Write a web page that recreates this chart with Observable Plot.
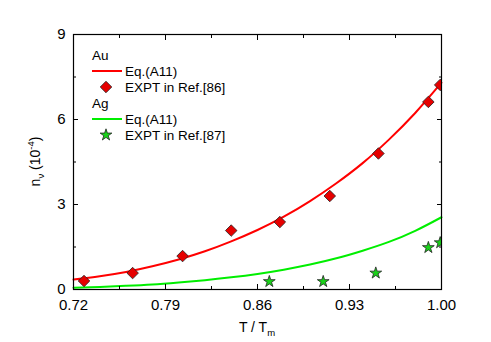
<!DOCTYPE html>
<html><head><meta charset="utf-8">
<script src="https://cdn.jsdelivr.net/npm/d3@7"></script>
<script src="https://cdn.jsdelivr.net/npm/@observablehq/plot@0.6"></script>
<style>body{margin:0;background:#fff} #chart{width:491px;height:342px}</style>
</head><body><div id="chart"></div>
<script>
// Experimental points
const auExptT = [0.728, 0.765, 0.803, 0.840, 0.877, 0.915, 0.952, 0.990, 0.999];
const auExptN = [0.30, 0.58, 1.18, 2.08, 2.38, 3.30, 4.80, 6.62, 7.22];
const agExptT = [0.869, 0.910, 0.950, 0.990, 0.999];
const agExptN = [0.28, 0.28, 0.58, 1.48, 1.65];
// Eq.(A11) curves
const curveT = [0.72, 0.74, 0.76, 0.78, 0.80, 0.82, 0.84, 0.86, 0.88, 0.90, 0.92, 0.94, 0.96, 0.98, 1.00];
const auEqN  = [0.35, 0.47, 0.62, 0.82, 1.06, 1.35, 1.70, 2.10, 2.57, 3.12, 3.75, 4.46, 5.29, 6.23, 7.30];
const agEqN  = [0.06, 0.09, 0.13, 0.18, 0.25, 0.33, 0.43, 0.55, 0.70, 0.88, 1.10, 1.37, 1.68, 2.07, 2.55];
// Ticks
const xTicks = [0.72, 0.79, 0.86, 0.93, 1.00];
const xMinorTicks = [0.755, 0.825, 0.895, 0.965];
const yTicks = [0, 3, 6, 9];
const yMinorTicks = [1.5, 4.5, 7.5];

const RED = "#ff0000", GREEN = "#00ee00", RED_PT = "#e60000", GREEN_PT = "#19d219";

const auCurve = curveT.map((t, i) => ({t, n: auEqN[i]}));
const agCurve = curveT.map((t, i) => ({t, n: agEqN[i]}));
const auPts = auExptT.map((t, i) => ({t, n: auExptN[i]}));
const agPts = agExptT.map((t, i) => ({t, n: agExptN[i]}));

const W = 491, H = 342, ML = 73, MR = 50, MT = 34, MB = 53;
const empty = () => "";
const FONT = "Liberation Sans, Arial, Helvetica, sans-serif";

const plot = Plot.plot({
  width: W, height: H,
  marginLeft: ML, marginRight: MR, marginTop: MT, marginBottom: MB,
  style: {fontFamily: FONT, fontSize: "15px", color: "#000", background: "#fff"},
  x: {domain: [0.72, 1.00]},
  y: {domain: [0, 9]},
  marks: [
    Plot.line(auCurve, {x: "t", y: "n", stroke: RED, strokeWidth: 2, curve: "natural"}),
    Plot.line(agCurve, {x: "t", y: "n", stroke: GREEN, strokeWidth: 2, curve: "natural"}),
    Plot.dot(auPts, {x: "t", y: "n", symbol: "diamond2", r: 5.2, fill: RED_PT, stroke: "#222", strokeWidth: 0.8, clip: true}),
    Plot.dot(agPts, {x: "t", y: "n", symbol: "star", r: 3.7, fill: GREEN_PT, stroke: "#222", strokeWidth: 0.8, clip: true}),
    // axes: labels
    Plot.axisX({ticks: xTicks, tickSize: 0, tickPadding: 10, tickFormat: d => d.toFixed(2), label: null, fontSize: 15}),
    Plot.axisY({ticks: yTicks, tickSize: 0, tickPadding: 8, tickFormat: d => String(d), label: null, fontSize: 15}),
    // inward ticks on all sides
    Plot.axisX({ticks: xTicks, tickSize: -5, tickFormat: empty, label: null}),
    Plot.axisX({ticks: xMinorTicks, tickSize: -3, tickFormat: empty, label: null}),
    Plot.axisX({anchor: "top", ticks: xTicks, tickSize: -5, tickFormat: empty, label: null}),
    Plot.axisX({anchor: "top", ticks: xMinorTicks, tickSize: -3, tickFormat: empty, label: null}),
    Plot.axisY({ticks: yTicks, tickSize: -5, tickFormat: empty, label: null}),
    Plot.axisY({ticks: yMinorTicks, tickSize: -3, tickFormat: empty, label: null}),
    Plot.axisY({anchor: "right", ticks: yTicks, tickSize: -5, tickFormat: empty, label: null}),
    Plot.axisY({anchor: "right", ticks: yMinorTicks, tickSize: -3, tickFormat: empty, label: null}),
    Plot.frame({stroke: "#000", strokeWidth: 1.2})
  ]
});
document.getElementById("chart").appendChild(plot);

const svg = d3.select(plot);
const txt = (sel, size, anchor) => sel.style("font-family", FONT).style("font-size", size + "px")
  .style("text-anchor", anchor).attr("fill", "#000");
// x axis label
const xl = txt(svg.append("text").attr("x", ML + (W - ML - MR) / 2).attr("y", 332), 14, "middle");
xl.append("tspan").text("T / T");
xl.append("tspan").style("font-size", "9.5px").attr("dy", 3.5).text("m");
// y axis label
const yl = txt(svg.append("text").attr("transform", `translate(40,${MT + (H - MT - MB) / 2}) rotate(-90)`), 14, "middle");
yl.append("tspan").text("n");
yl.append("tspan").style("font-size", "9.5px").attr("dy", 3.5).text("ν");
yl.append("tspan").attr("dy", -3.5).text(" (10");
yl.append("tspan").style("font-size", "9.5px").attr("dy", -6).text("-4");
yl.append("tspan").attr("dy", 6).text(")");

// legend
const lg = svg.append("g");
const rows = [
  {type: "head", text: "Au", y: 55},
  {type: "line", color: RED, text: "Eq.(A11)", y: 71},
  {type: "sym", sym: d3.symbolDiamond2, size: Math.PI * 5.2 * 5.2, color: RED_PT, text: "EXPT in Ref.[86]", y: 87},
  {type: "head", text: "Ag", y: 103},
  {type: "line", color: GREEN, text: "Eq.(A11)", y: 119},
  {type: "sym", sym: d3.symbolStar, size: Math.PI * 3.7 * 3.7, color: GREEN_PT, text: "EXPT in Ref.[87]", y: 135}
];
for (const r of rows) {
  if (r.type === "head") {
    txt(lg.append("text").attr("x", 92).attr("y", r.y).attr("dy", "0.35em").text(r.text), 13.5, "start");
    continue;
  }
  if (r.type === "line") {
    lg.append("line").attr("x1", 92).attr("x2", 122).attr("y1", r.y).attr("y2", r.y)
      .attr("stroke", r.color).attr("stroke-width", 2);
  } else {
    lg.append("path").attr("d", d3.symbol(r.sym, r.size)()).attr("transform", `translate(106,${r.y})`)
      .attr("fill", r.color).attr("stroke", "#222").attr("stroke-width", 0.8);
  }
  txt(lg.append("text").attr("x", 125).attr("y", r.y).attr("dy", "0.35em").text(r.text), 13.5, "start");
}
</script>
</body></html>
